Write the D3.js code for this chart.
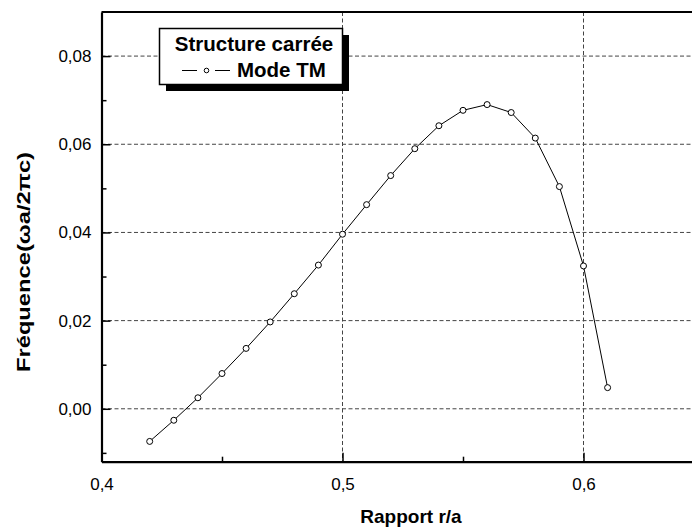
<!DOCTYPE html>
<html>
<head>
<meta charset="utf-8">
<script src="https://cdn.jsdelivr.net/npm/d3@7"></script>
<style>
  body { margin: 0; background: #fff; }
  svg { display: block; font-family: "Liberation Sans", Arial, sans-serif; }
</style>
</head>
<body>
<div id="chart"></div>
<script>
// Data
var ratio = [0.42, 0.43, 0.44, 0.45, 0.46, 0.47, 0.48, 0.49, 0.50, 0.51,
             0.52, 0.53, 0.54, 0.55, 0.56, 0.57, 0.58, 0.59, 0.60, 0.61];
var freq = [-0.0074, -0.0026, 0.0025, 0.0080, 0.0137, 0.0197, 0.0261, 0.0326, 0.0396, 0.0463,
            0.0529, 0.0590, 0.0642, 0.0677, 0.0690, 0.0672, 0.0614, 0.0504, 0.0324, 0.0048];
var xMajor = [0.4, 0.5, 0.6];
var xMinor = [0.45, 0.55];
var yMajor = [0.00, 0.02, 0.04, 0.06, 0.08];
var yMinor = [-0.01, 0.01, 0.03, 0.05, 0.07];
var legendTitle = "Structure carrée";
var seriesName = "Mode TM";

var W = 692, H = 532;
var plotLeft = 101.5, plotTop = 12, plotBottom = 461.7;

var fr = d3.formatLocale({decimal: ",", thousands: ".", grouping: [3], currency: ["", "€"]});

var x = d3.scaleLinear().domain([0.4, 0.65]).range([plotLeft, plotLeft + 602.5]);
var y = d3.scaleLinear().domain([-0.012, 0.09]).range([plotBottom, plotTop]);

var svg = d3.select("#chart").append("svg")
    .attr("width", W)
    .attr("height", H);

// dashed grid
svg.append("g").selectAll("line")
    .data(yMajor)
  .enter().append("line")
    .attr("x1", plotLeft).attr("x2", W)
    .attr("y1", d => y(d)).attr("y2", d => y(d))
    .attr("stroke", "#444").attr("stroke-dasharray", "4,2.5");
svg.append("g").selectAll("line")
    .data(xMajor.slice(1))
  .enter().append("line")
    .attr("x1", d => x(d)).attr("x2", d => x(d))
    .attr("y1", plotTop).attr("y2", plotBottom)
    .attr("stroke", "#444").attr("stroke-dasharray", "4,2.5");

// top frame line
svg.append("line")
    .attr("x1", plotLeft).attr("x2", W)
    .attr("y1", plotTop).attr("y2", plotTop)
    .attr("stroke", "#000").attr("stroke-width", 2);

// x axis
svg.append("g")
    .attr("transform", "translate(0," + plotBottom + ")")
    .call(d3.axisBottom(x).tickValues(xMajor).tickSizeInner(-9).tickSizeOuter(0)
      .tickPadding(16).tickFormat(fr.format(".1f")));
svg.append("g")
    .attr("transform", "translate(0," + plotBottom + ")")
    .call(d3.axisBottom(x).tickValues(xMinor).tickSizeInner(-5).tickSizeOuter(0).tickFormat(""))
    .select(".domain").remove();

// y axis
svg.append("g")
    .attr("transform", "translate(" + plotLeft + ",0)")
    .call(d3.axisLeft(y).tickValues(yMajor).tickSizeInner(-9).tickSizeOuter(0)
      .tickPadding(10).tickFormat(fr.format(".2f")));
svg.append("g")
    .attr("transform", "translate(" + plotLeft + ",0)")
    .call(d3.axisLeft(y).tickValues(yMinor).tickSizeInner(-5).tickSizeOuter(0).tickFormat(""))
    .select(".domain").remove();

svg.selectAll(".domain").attr("stroke-width", 2.2);
svg.selectAll(".tick line").attr("stroke-width", 1.5);
svg.selectAll(".tick text")
    .attr("font-family", "Liberation Sans, Arial, sans-serif")
    .attr("font-size", 17)
    .attr("fill", "#000");

// axis titles
svg.append("text")
    .attr("x", 411).attr("y", 523)
    .attr("text-anchor", "middle")
    .attr("font-weight", "bold").attr("font-size", 19)
    .text("Rapport r/a");

svg.append("text")
    .attr("transform", "translate(30,262) rotate(-90)")
    .attr("text-anchor", "middle")
    .attr("font-weight", "bold").attr("font-size", 18)
    .attr("textLength", 220).attr("lengthAdjust", "spacingAndGlyphs")
    .text("Fréquence(ωa/2πc)");

// line + markers
var pts = ratio.map((r, i) => [r, freq[i]]);
svg.append("path")
    .datum(pts)
    .attr("fill", "none")
    .attr("stroke", "#000")
    .attr("stroke-width", 1)
    .attr("d", d3.line().x(d => x(d[0])).y(d => y(d[1])));

svg.append("g").selectAll("circle")
    .data(pts)
  .enter().append("circle")
    .attr("cx", d => x(d[0]))
    .attr("cy", d => y(d[1]))
    .attr("r", 3)
    .attr("fill", "#fff")
    .attr("stroke", "#000")
    .attr("stroke-width", 1);

// legend with shadow
var lg = svg.append("g");
lg.append("rect")
    .attr("x", 166).attr("y", 35).attr("width", 183).attr("height", 56)
    .attr("fill", "#000");
lg.append("rect")
    .attr("x", 159.5).attr("y", 28.5).attr("width", 183).attr("height", 56)
    .attr("fill", "#fff").attr("stroke", "#000").attr("stroke-width", 1.5);
lg.append("text")
    .attr("x", 254).attr("y", 51)
    .attr("text-anchor", "middle")
    .attr("font-weight", "bold").attr("font-size", 20.5)
    .text(legendTitle);
lg.append("line")
    .attr("x1", 182).attr("x2", 197).attr("y1", 70.5).attr("y2", 70.5)
    .attr("stroke", "#000");
lg.append("line")
    .attr("x1", 215).attr("x2", 230).attr("y1", 70.5).attr("y2", 70.5)
    .attr("stroke", "#000");
lg.append("circle")
    .attr("cx", 206.5).attr("cy", 70.5).attr("r", 2.3)
    .attr("fill", "#fff").attr("stroke", "#000");
lg.append("text")
    .attr("x", 237).attr("y", 77)
    .attr("font-weight", "bold").attr("font-size", 20.5)
    .text(seriesName);
</script>
</body>
</html>
